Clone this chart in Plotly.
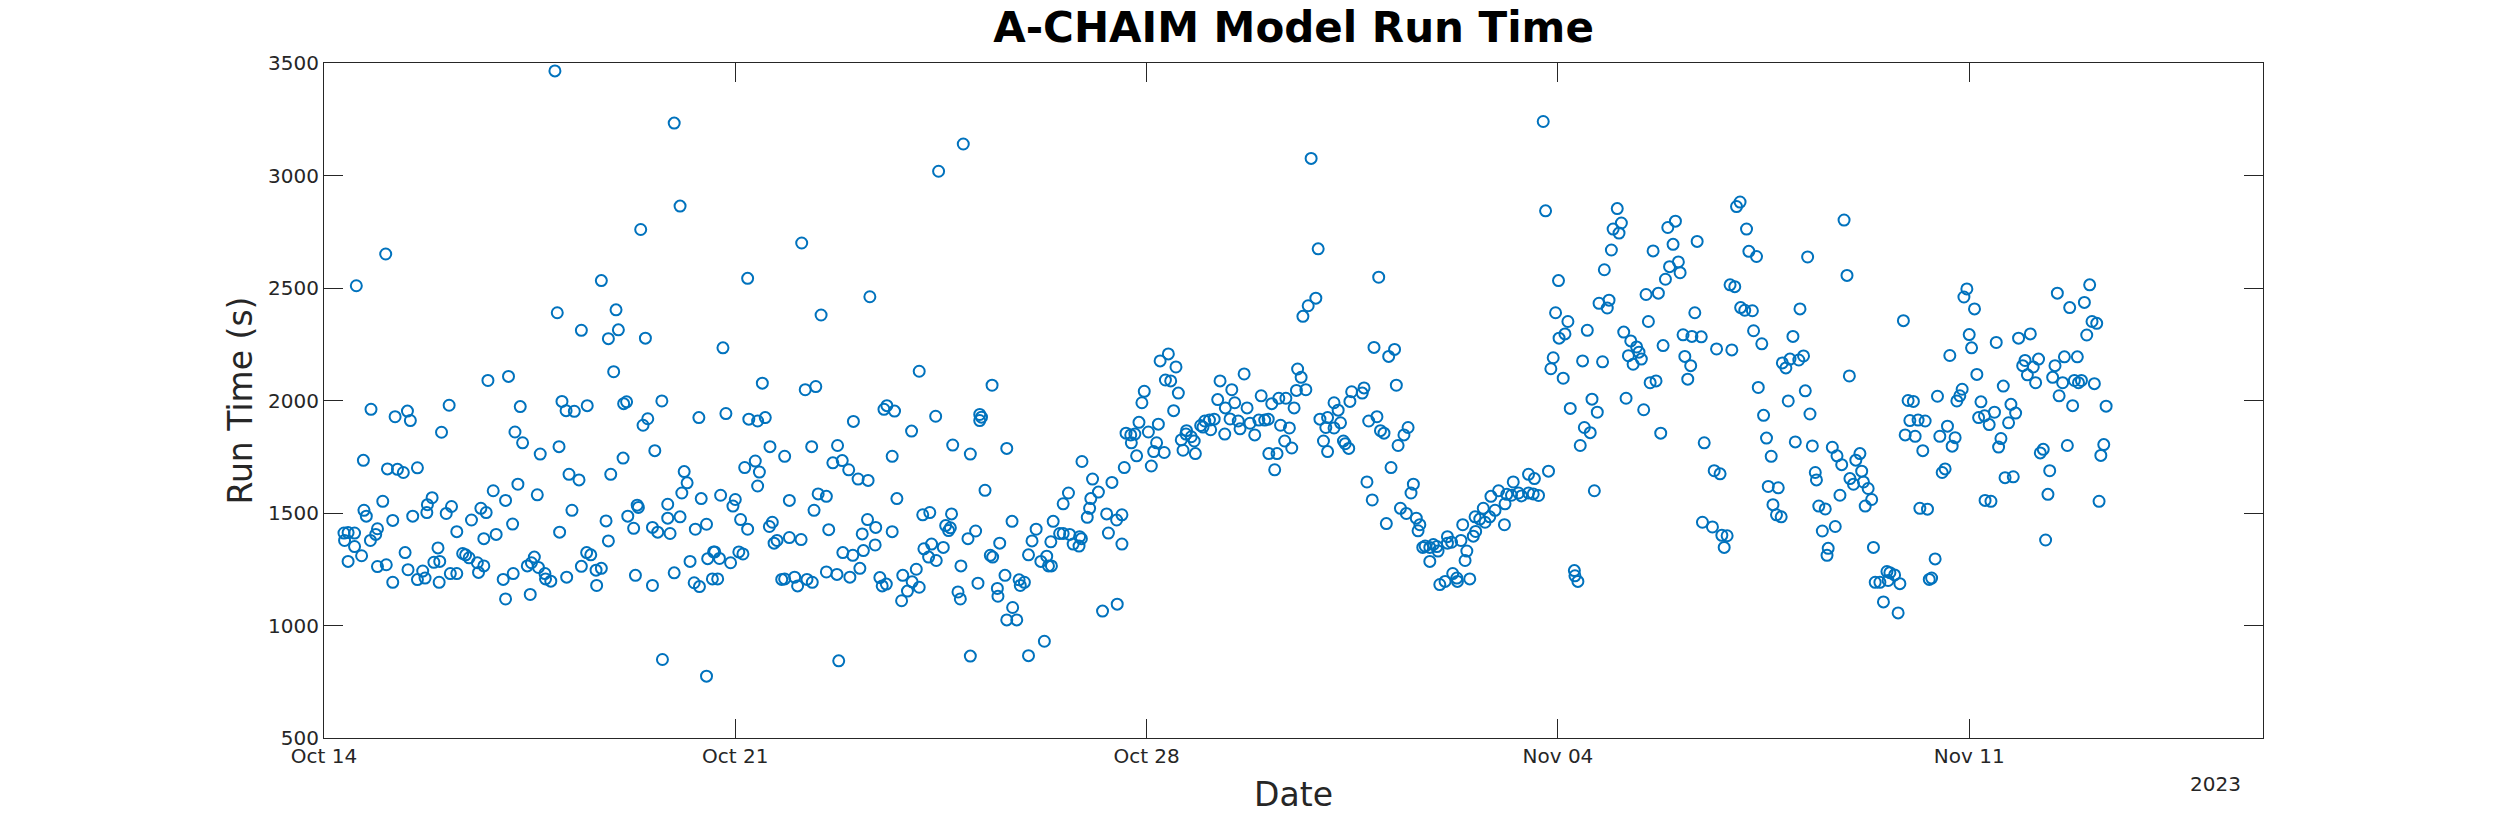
import pandas as pd
import plotly.graph_objects as go

# Start date of the x axis (2023) and tick labels
base_date = "2023-10-14"
tick_dates = ["2023-10-14", "2023-10-21", "2023-10-28", "2023-11-04", "2023-11-11"]
tick_labels = ["Oct 14", "Oct 21", "Oct 28", "Nov 04", "Nov 11"]

# Run times: days since Oct 14 and run time in seconds
wk1_days = [3.93, 5.96, 6.06, 5.39, 1.05, 0.55, 4.72, 3.97, 4.97, 4.38, 5.01, 4.84, 5.47, 4.93, 2.79, 3.14,
            0.80, 1.21, 1.42, 1.47, 2.13, 3.34, 4.05, 4.12, 4.26, 4.48, 5.10, 5.15, 5.75, 6.38, 5.51, 5.43,
            2.00, 3.25, 3.38, 3.68, 4.00, 5.63, 5.09, 0.67, 1.08, 1.25, 1.35, 1.59, 4.17, 4.34, 4.88, 6.13,
            6.18, 6.09, 6.42, 2.88, 3.30, 3.09, 3.63, 1.00, 1.84, 1.76, 1.75, 2.17, 2.08, 0.68, 0.72, 1.17,
            1.51, 2.67, 2.76, 2.51, 3.21, 4.22, 5.33, 5.35, 5.85, 5.85, 6.06, 5.17, 4.80, 5.27, 5.59, 5.68,
            5.89, 6.32, 6.51, 4.01, 0.34, 0.41, 0.52, 0.35, 0.52, 0.91, 0.88, 0.79, 2.26, 2.72, 2.93, 4.84,
            0.41, 0.64, 0.91, 1.06, 1.38, 1.43, 1.17, 1.59, 1.68, 1.72, 1.94, 1.87, 1.97, 1.96, 2.15, 2.26,
            2.36, 2.41, 2.47, 2.61, 2.72, 2.63, 3.05, 3.22, 3.09, 3.51, 3.46, 3.58, 3.53, 3.65, 3.76, 3.77,
            3.86, 4.13, 4.38, 4.47, 4.54, 4.63, 4.72, 4.64, 5.30, 5.59, 5.96, 6.23, 6.30, 6.39, 6.53, 6.63,
            6.61, 5.76, 6.51]
wk1_secs = [3465, 3233, 2864, 2760, 2651, 2510, 2533, 2390, 2403, 2312, 2314, 2275, 2277, 2128, 2089, 2107,
            1961, 1928, 1953, 1911, 1979, 1973, 1996, 1955, 1952, 1977, 1986, 1994, 1998, 1924, 1919, 1890,
            1859, 1860, 1812, 1762, 1795, 1777, 1744, 1734, 1696, 1694, 1680, 1701, 1672, 1647, 1672, 1684,
            1634, 1589, 1564, 1599, 1628, 1556, 1581, 1552, 1568, 1537, 1502, 1529, 1498, 1512, 1486, 1467,
            1486, 1521, 1502, 1469, 1451, 1512, 1535, 1525, 1539, 1477, 1483, 1486, 1465, 1432, 1436, 1415,
            1409, 1428, 1450, 1415, 1411, 1413, 1411, 1378, 1351, 1430, 1405, 1378, 1417, 1386, 1405, 1376,
            1285, 1310, 1262, 1270, 1324, 1248, 1192, 1204, 1242, 1211, 1345, 1281, 1285, 1192, 1231, 1231,
            1320, 1314, 1301, 1279, 1265, 1236, 1205, 1231, 1118, 1138, 1265, 1304, 1279, 1258, 1231, 1207,
            1197, 1215, 1263, 1324, 1314, 1246, 1254, 1178, 1223, 1178, 1234, 1285, 1190, 1173, 1297, 1327,
            1207, 849, 775]

wk2_days = [10.88, 10.46, 8.13, 7.21, 9.29, 8.46, 6.79, 10.13, 7.46, 8.19, 8.37, 11.37, 6.84, 7.23, 7.38, 7.51,
            9.01, 9.53, 9.58, 9.71, 10.41, 10.00, 11.16, 11.19, 11.16, 7.59, 7.84, 8.30, 8.74, 10.70, 11.00, 11.62,
            9.67, 7.16, 7.34, 7.41, 7.38, 8.66, 8.82, 8.93, 9.09, 9.26, 6.75, 7.00, 6.96, 7.92, 8.41, 8.55,
            8.34, 9.75, 11.25, 7.09, 7.21, 7.63, 7.58, 7.66, 7.71, 7.92, 8.12, 8.59, 9.25, 9.16, 9.39, 9.38,
            9.67, 10.19, 10.31, 10.68, 10.58, 10.66, 10.63, 11.09, 10.96, 11.71, 11.50, 6.65, 6.73, 6.92, 7.06, 7.13,
            8.83, 9.00, 9.18, 9.12, 10.21, 10.34, 10.54, 10.29, 10.42, 10.84, 11.34, 11.38, 6.70, 7.79, 7.84, 8.01,
            8.06, 8.22, 8.31, 8.55, 8.73, 8.95, 9.46, 9.50, 9.57, 9.85, 10.08, 10.01, 10.13, 9.93, 9.83, 10.79,
            10.83, 11.13, 11.46, 11.47, 11.59, 11.83, 11.85, 11.92, 11.72, 11.62, 11.79, 8.76, 11.00, 11.99, 12.26, 13.25,
            12.90, 13.08, 13.18, 13.05, 12.67, 12.58, 13.03, 12.99, 13.32, 13.35, 12.41, 12.52, 12.69, 12.86, 12.75, 12.85,
            12.89, 12.37, 12.12, 12.05, 11.99, 12.30, 12.20, 12.33, 12.38, 12.58]
wk2_secs = [3140, 3019, 2700, 2543, 2461, 2380, 2234, 2130, 2077, 2048, 2062, 2068, 1942, 1917, 1909, 1924,
            1907, 1961, 1977, 1953, 1930, 1864, 1938, 1926, 1911, 1795, 1752, 1795, 1800, 1802, 1762, 1787,
            1752, 1702, 1731, 1682, 1620, 1723, 1733, 1692, 1651, 1645, 1579, 1560, 1531, 1556, 1585, 1574,
            1512, 1564, 1601, 1471, 1428, 1459, 1440, 1366, 1378, 1391, 1382, 1426, 1471, 1407, 1436, 1358,
            1417, 1492, 1502, 1496, 1444, 1434, 1422, 1420, 1386, 1463, 1366, 1327, 1298, 1279, 1327, 1318,
            1324, 1312, 1333, 1254, 1341, 1362, 1347, 1304, 1289, 1265, 1312, 1304, 1207, 1205, 1207, 1215,
            1176, 1205, 1192, 1238, 1227, 1215, 1213, 1176, 1184, 1223, 1250, 1194, 1170, 1153, 1110, 1149,
            1118, 1188, 1165, 1130, 1223, 1203, 1178, 1192, 1080, 1025, 1025, 843, 864, 866, 930, 1064,
            1729, 1651, 1593, 1564, 1589, 1541, 1521, 1481, 1496, 1411, 1463, 1409, 1405, 1395, 1362, 1353,
            1386, 1372, 1428, 1376, 1314, 1308, 1285, 1265, 1265, 1409]

wk3_days = [16.80, 16.92, 17.95, 16.88, 16.75, 16.66, 17.87, 18.22, 18.12, 18.25, 14.37, 14.23, 14.50, 14.32, 14.41, 14.54,
            14.46, 13.96, 13.92, 13.87, 14.20, 14.03, 13.65, 13.73, 13.80, 13.74, 14.17, 14.12, 14.30, 13.83, 14.08, 13.62,
            13.41, 13.58, 13.49, 13.58, 13.50, 15.25, 15.66, 15.45, 15.21, 15.50, 15.34, 15.71, 15.95, 16.13, 16.25, 16.37,
            16.51, 16.55, 16.71, 16.57, 16.63, 14.68, 14.59, 14.67, 14.76, 14.81, 14.62, 14.83, 14.92, 14.99, 15.07, 15.15,
            15.09, 14.96, 15.33, 15.42, 15.56, 15.59, 15.76, 15.84, 15.91, 16.01, 16.07, 16.28, 16.43, 16.35, 16.47, 16.08,
            16.22, 16.18, 16.95, 17.08, 17.19, 17.26, 17.30, 17.05, 17.19, 17.01, 17.08, 17.35, 17.38, 17.44, 17.49, 17.46,
            17.67, 17.70, 17.78, 17.92, 17.98, 18.04, 18.28, 18.38, 18.45, 18.16, 17.75, 17.84, 18.08, 18.54, 18.50, 18.32,
            18.42, 18.59, 18.65, 18.62, 18.70, 18.74, 18.82, 18.88, 18.94, 18.96, 18.82, 18.99, 19.08, 19.21, 19.28, 19.29,
            19.50, 19.12, 19.19, 19.12, 19.35, 19.38, 19.45, 19.42, 19.56, 19.60, 19.59, 19.67, 19.73, 19.76, 19.84, 19.86,
            19.93, 19.99]
wk3_secs = [3076, 2674, 2548, 2455, 2421, 2374, 2236, 2227, 2196, 2068, 2207, 2176, 2149, 2091, 2087, 2033,
            1955, 2041, 1990, 1903, 1895, 1860, 1855, 1847, 1851, 1812, 1812, 1773, 1769, 1754, 1709, 1702,
            1636, 1492, 1469, 1362, 1095, 2087, 2118, 2048, 2004, 1990, 1967, 1967, 2021, 1986, 2010, 2010,
            1967, 2045, 2048, 2140, 2103, 1866, 1825, 1851, 1839, 1820, 1779, 1764, 1889, 1909, 1913, 1917,
            1870, 1882, 1851, 1918, 1909, 1874, 1899, 1847, 1913, 1913, 1917, 1890, 1878, 1820, 1789, 1764,
            1764, 1692, 1917, 1924, 1990, 1957, 1901, 1880, 1878, 1820, 1773, 1820, 1808, 1787, 2039, 1996,
            2033, 2056, 1909, 1928, 1866, 1855, 1800, 1847, 1880, 1702, 1638, 1558, 1453, 1628, 1589, 1521,
            1498, 1477, 1448, 1421, 1347, 1353, 1347, 1360, 1351, 1331, 1285, 1182, 1196, 1231, 1211, 1196,
            1207, 1395, 1370, 1366, 1378, 1448, 1331, 1289, 1397, 1418, 1483, 1473, 1521, 1459, 1483, 1574,
            1512, 1599]

wk4_days = [20.75, 20.79, 21.01, 20.96, 21.17, 21.12, 21.02, 21.50, 20.92, 20.88, 21.09, 21.42, 21.76, 21.21, 21.58, 21.67,
            21.45, 21.55, 21.38, 20.84, 20.50, 20.60, 21.62, 20.24, 20.13, 20.10, 20.21, 20.33, 20.38, 20.50, 20.58, 20.67,
            20.09, 21.28, 21.29, 21.34, 22.01, 22.08, 21.94, 22.04, 21.91, 21.79, 21.70, 21.87, 21.84, 22.12, 22.24, 22.34,
            22.20, 22.38, 22.42, 22.28, 22.16, 22.46, 22.75, 22.57, 22.67, 22.79, 22.54, 22.50, 22.71, 22.62, 22.87, 23.00,
            22.96, 23.05, 22.90, 22.83, 23.08, 23.37, 23.33, 23.13, 23.28, 23.44, 23.16, 23.26, 23.21, 23.70, 23.96, 23.49,
            23.66, 23.76, 23.46, 23.63, 23.79, 23.88, 23.83, 24.04, 24.10, 24.21, 24.25, 24.38, 23.93, 24.01, 24.11, 24.18,
            24.31, 24.33, 24.47, 24.41, 24.50, 24.55, 24.63, 24.58, 24.75, 24.66, 24.72, 24.80, 25.25, 25.12, 25.00, 24.82,
            24.88, 24.95, 25.10, 25.18, 25.21, 24.92, 25.29, 25.04, 25.33, 25.38, 25.40, 25.44, 25.55, 25.80, 25.72, 25.50,
            25.60, 25.58, 25.67, 25.75, 25.83, 26.07, 26.14, 26.17, 25.97, 26.03, 26.20, 26.28, 26.34, 26.23, 25.87, 25.92,
            25.96, 26.37, 26.40, 26.48, 26.60, 26.54]
wk4_secs = [3240, 2843, 2533, 2390, 2351, 2296, 2277, 2312, 2190, 2141, 2099, 2176, 2172, 1965, 2006, 1948,
            1880, 1857, 1800, 1686, 1672, 1653, 1599, 1638, 1583, 1541, 1579, 1589, 1576, 1589, 1585, 1578,
            1448, 1244, 1221, 1196, 2853, 2789, 2762, 2744, 2669, 2581, 2432, 2446, 2411, 2304, 2265, 2238,
            2199, 2215, 2184, 2161, 2010, 1959, 1855, 2079, 2087, 2244, 2351, 2471, 2477, 2665, 2769, 2797,
            2694, 2616, 2595, 2539, 2568, 2707, 2390, 2292, 2285, 2283, 2196, 2155, 2095, 2229, 2225, 1812,
            1688, 1674, 1459, 1438, 1401, 1399, 1347, 2862, 2882, 2762, 2663, 2640, 2514, 2506, 2413, 2401,
            2399, 2310, 2252, 2058, 1934, 1833, 1752, 1618, 1612, 1537, 1492, 1483, 2638, 2407, 2285, 2167,
            2145, 2184, 2180, 2198, 2043, 1998, 1940, 1816, 1798, 1680, 1647, 1531, 1518, 1579, 1440, 1420,
            1343, 1312, 1792, 1754, 1715, 1735, 1764, 1686, 1653, 1628, 1638, 1609, 1560, 1531, 2802, 2556,
            2109, 1347, 1192, 1192, 1240, 1105]

wk5_days = [26.88, 27.96, 27.91, 28.09, 28.00, 28.04, 27.67, 28.46, 28.13, 28.58, 27.88, 27.84, 27.79, 27.46, 26.96, 27.05,
            26.99, 27.13, 27.25, 26.91, 27.08, 27.21, 27.50, 27.63, 27.76, 27.71, 27.59, 27.54, 27.16, 27.29, 28.20, 28.16,
            28.26, 28.34, 28.43, 28.71, 28.79, 28.67, 28.54, 28.50, 28.61, 28.75, 28.27, 28.37, 28.84, 29.04, 28.91, 28.95,
            29.09, 29.18, 28.99, 29.13, 29.46, 29.42, 29.62, 29.84, 29.59, 29.53, 29.76, 29.79, 29.91, 29.86, 30.13, 30.33,
            29.50, 29.71, 30.05, 29.96, 30.09, 30.17, 30.00, 29.26, 29.21, 29.37, 29.34, 29.67, 30.29, 30.24, 30.21, 29.30,
            27.42, 27.36, 27.32, 26.65, 26.73, 26.62, 26.82, 26.79]
wk5_secs = [2355, 2496, 2460, 2407, 2293, 2234, 2200, 2258, 2116, 2064, 2050, 2021, 1998, 2019, 2000, 1996,
            1911, 1913, 1909, 1847, 1841, 1777, 1841, 1886, 1835, 1797, 1696, 1680, 1521, 1517, 1994, 1924,
            1932, 1893, 1948, 1983, 1944, 1901, 1831, 1793, 1657, 1661, 1556, 1552, 2277, 2296, 2155, 2178,
            2149, 2184, 2114, 2079, 2155, 2103, 2194, 2194, 2079, 2021, 1977, 2089, 2089, 2079, 2075, 1975,
            2477, 2413, 2514, 2436, 2351, 2343, 2291, 1783, 1767, 1688, 1583, 1800, 1804, 1756, 1552, 1380,
            1296, 1211, 1205, 1235, 1225, 1200, 1186, 1056]

days = wk1_days + wk2_days + wk3_days + wk4_days + wk5_days
secs = wk1_secs + wk2_secs + wk3_secs + wk4_secs + wk5_secs
dates = pd.Timestamp(base_date) + pd.to_timedelta(days, unit="D")

BLUE = "#0072BD"
AX = "#262626"
FONT = "DejaVu Sans"

fig = go.Figure(
    go.Scatter(
        x=dates, y=secs, mode="markers",
        marker=dict(symbol="circle-open", size=11, color=BLUE, line=dict(width=2, color=BLUE)),
        hoverinfo="x+y",
    )
)

axis_common = dict(
    showline=True, linecolor=AX, linewidth=1, mirror="ticks",
    ticks="inside", ticklen=19, tickwidth=1, tickcolor=AX,
    showgrid=False, zeroline=False,
    tickfont=dict(family=FONT, size=20, color=AX),
)

fig.update_layout(
    width=2500, height=833,
    margin=dict(l=324, r=237, t=63, b=95),
    paper_bgcolor="white", plot_bgcolor="white",
    showlegend=False,
    font=dict(family=FONT, color=AX),
    title=dict(
        text="<b>A-CHAIM Model Run Time</b>",
        x=0.5, xanchor="center", xref="paper",
        y=1 - 27 / 833, yanchor="middle", yref="container",
        font=dict(family=FONT, size=42, color="black"),
    ),
    xaxis=dict(
        axis_common,
        type="date",
        range=["2023-10-14", "2023-11-16"],
        tickvals=tick_dates, ticktext=tick_labels,
        title=dict(text="Date", font=dict(family=FONT, size=33, color=AX), standoff=15),
        automargin=False,
    ),
    yaxis=dict(
        axis_common,
        range=[500, 3500], tickmode="linear", tick0=500, dtick=500,
        title=dict(text="Run Time (s)", font=dict(family=FONT, size=33, color=AX), standoff=5),
        automargin=False,
    ),
    annotations=[
        dict(text="2023", xref="paper", yref="paper", x=0.9897, y=-0.068,
             xanchor="right", yanchor="middle", showarrow=False,
             font=dict(family=FONT, size=20, color=AX)),
    ],
)

fig.write_html("out.html", config={"displayModeBar": False},
               post_script="document.body.style.margin='0';")
